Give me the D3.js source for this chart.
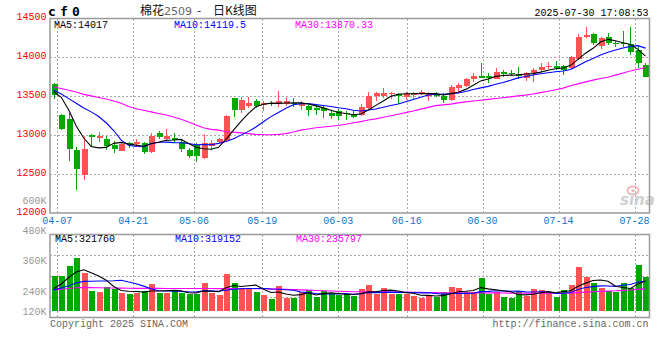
<!DOCTYPE html>
<html>
<head>
<meta charset="utf-8">
<script src="https://cdn.jsdelivr.net/npm/d3@7/dist/d3.min.js"></script>
<style>
body { margin: 0; background: #fff; }
text { font-family: "Liberation Mono", "DejaVu Sans Mono", monospace; font-size: 10px; }
</style>
</head>
<body>
<div id="kline-chart"></div>
<script>
// trading days shown (04-03 .. 07-30)
var dates = ["04-03","04-07","04-08","04-09","04-10","04-11","04-14","04-15","04-16","04-17",
  "04-18","04-21","04-22","04-23","04-24","04-25","04-28","04-29","04-30","05-06",
  "05-07","05-08","05-09","05-12","05-13","05-14","05-15","05-16","05-19","05-20",
  "05-21","05-22","05-23","05-26","05-27","05-28","05-29","05-30","06-03","06-04",
  "06-05","06-06","06-09","06-10","06-11","06-12","06-13","06-16","06-17","06-18",
  "06-19","06-20","06-23","06-24","06-25","06-26","06-27","06-30","07-01","07-02",
  "07-03","07-04","07-07","07-08","07-09","07-10","07-11","07-14","07-15","07-16",
  "07-17","07-18","07-21","07-22","07-23","07-24","07-25","07-28","07-29","07-30"];

var opens = [13660,13260,13208,12810,12489,12999,12968,12951,12870,12801,
  12896,12891,12896,12784,13024,12955,12964,12917,12810,12874,
  12711,12861,12917,12940,13478,13324,13380,13440,13390,13418,
  13397,13397,13418,13380,13380,13354,13345,13290,13311,13290,
  13264,13260,13345,13504,13508,13525,13525,13487,13517,13538,
  13504,13530,13504,13453,13611,13633,13722,13761,13761,13722,
  13817,13795,13782,13740,13795,13838,13872,13890,13894,13860,
  13975,14258,14301,14147,14267,14190,14190,14172,14095,13902];
var highs = [13670,13270,13290,12844,12994,13011,13041,12990,12926,12895,
  12917,12951,12913,13033,13058,13076,13024,12938,12831,12896,
  13016,12938,12970,13260,13478,13487,13495,13461,13440,13440,
  13568,13495,13474,13440,13388,13388,13375,13324,13333,13311,
  13311,13397,13560,13560,13611,13560,13538,13560,13560,13581,
  13560,13555,13538,13645,13675,13731,13795,13932,13795,13860,
  13838,13838,13881,13817,13860,13932,13945,13954,13902,14018,
  14301,14395,14310,14258,14310,14215,14339,14395,14160,13924];
var lows = [13460,13067,12673,12296,12424,12853,12908,12810,12776,12795,
  12831,12853,12754,12767,12947,12938,12904,12788,12703,12656,
  12690,12810,12900,12917,13238,13290,13345,13345,13315,13375,
  13367,13375,13367,13324,13247,13260,13225,13204,13195,13195,
  13217,13247,13333,13440,13482,13461,13397,13453,13453,13517,
  13440,13490,13418,13440,13560,13624,13688,13731,13675,13718,
  13752,13765,13718,13697,13688,13817,13847,13838,13774,13847,
  13967,14245,14159,14104,14159,14138,14138,14031,13868,13744];
var closes = [13520,13080,12827,12570,12823,12973,12990,12861,12827,12887,
  12870,12917,12788,12994,12981,12990,12938,12827,12733,12733,
  12896,12904,12955,13247,13328,13453,13418,13380,13410,13397,
  13440,13440,13397,13401,13324,13324,13311,13247,13247,13268,
  13238,13367,13504,13538,13547,13538,13504,13538,13538,13555,
  13538,13500,13453,13624,13645,13722,13761,13740,13740,13817,
  13782,13782,13761,13795,13838,13881,13894,13868,13838,14010,
  14267,14288,14181,14245,14181,14168,14168,14074,13924,13752];

var ma5 = [13560,13487,13324,13118,12964,12855,12837,12843,12895,12908,
  12887,12872,12858,12891,12910,12934,12938,12946,12894,12844,
  12825,12819,12844,12947,13066,13177,13280,13365,13398,13412,
  13409,13413,13417,13415,13400,13377,13351,13321,13291,13279,
  13262,13273,13325,13383,13439,13499,13526,13533,13533,13535,
  13535,13534,13517,13534,13552,13589,13641,13698,13722,13756,
  13768,13772,13776,13787,13792,13811,13834,13855,13864,13898,
  13975,14054,14117,14198,14232,14213,14189,14167,14103,14017];
var ma10 = [13580,13530,13470,13410,13350,13300,13240,13160,13060,12936,
  12871,12855,12851,12893,12909,12911,12905,12902,12893,12877,
  12880,12878,12895,12920,12955,13001,13049,13105,13172,13239,
  13293,13347,13391,13406,13406,13393,13382,13369,13353,13340,
  13320,13312,13323,13337,13359,13381,13400,13429,13458,13487,
  13517,13530,13525,13534,13543,13562,13587,13608,13628,13654,
  13678,13707,13737,13755,13774,13790,13803,13816,13826,13845,
  13893,13944,13986,14031,14065,14094,14121,14142,14151,14119.5];
var ma30 = [13620,13600,13578,13555,13525,13505,13485,13465,13440,13410,
  13370,13340,13320,13300,13280,13260,13235,13205,13170,13130,
  13095,13075,13065,13045,13040,13030,13020,13010,13005,13005,
  13010,13020,13040,13065,13080,13095,13105,13115,13125,13140,
  13160,13175,13195,13210,13230,13250,13270,13290,13310,13335,
  13358,13380,13390,13400,13415,13428,13440,13450,13460,13472,
  13482,13493,13505,13515,13530,13547,13565,13585,13605,13635,
  13660,13685,13708,13728,13745,13772,13800,13825,13848,13870.33];

// volume in thousand lots
var volumes = [376,376,485,573,412,213,202,253,231,191,
  176,191,216,289,191,191,213,191,184,176,
  300,195,169,398,300,245,245,198,169,125,
  271,136,136,198,224,151,209,177,169,177,
  158,234,278,177,245,183,183,177,158,136,
  169,151,198,256,245,198,198,354,183,198,
  147,136,213,161,234,224,198,151,224,278,
  470,370,295,250,210,198,300,245,496,370];
var vma5 = [240,290,360,420,444,412,377,331,262,218,
  211,208,201,213,213,216,220,215,194,191,
  213,210,205,248,273,262,271,277,231,196,
  202,180,167,173,193,169,184,192,186,177,
  178,183,203,205,218,223,213,193,189,167,
  165,158,162,182,204,210,219,250,236,226,
  216,204,175,171,178,194,206,194,206,215,
  264,299,327,333,319,265,251,241,290,321.76];
var vma10 = [225,245,270,300,318,320,322,322,325,331,
  311,293,266,237,215,213,214,208,203,202,
  214,215,210,221,232,237,241,241,240,235,
  232,226,222,202,195,185,182,180,180,185,
  174,183,198,195,198,201,198,198,197,193,
  194,186,178,186,186,187,189,206,209,215,
  213,211,213,203,202,205,205,185,189,197,
  229,252,261,269,267,264,275,284,311,319.152];
var vma30 = [225,232,240,248,252,250,248,246,245,244,
  243,242,242,242,242,241,241,240,240,240,
  240,240,239,240,240,240,240,239,238,236,
  234,231,228,225,222,219,216,213,210,207,
  205,204,204,203,203,202,201,200,199,198,
  197,195,193,192,192,191,191,192,192,192,
  191,190,190,189,189,189,189,188,188,190,
  196,201,205,209,212,215,220,224,231,235.797];

var priceTicks = [14500, 14000, 13500, 13000, 12500, 12000];
var volTicks = [600, 480, 360, 240, 120];
var dateTicks = ["04-07","04-21","05-06","05-19","06-03","06-16","06-30","07-14","07-28"];
var priceLegend = ["MA5:14017", "MA10:14119.5", "MA30:13870.33"];
var volLegend = ["MA5:321760", "MA10:319152", "MA30:235797"];

var RED = "#ff5252", GREEN = "#00a800", GRID = "#aaaaaa", BORDER = "#9a9a9a";

function drawKChart() {
    var left = 50, right = 649.5,
        top = 18.5, bottom = 213,
        vTop = 234.5, vBottom = 317.5;

    var svg = d3.select("#kline-chart")
        .append("svg")
        .attr("width", 660)
        .attr("height", 360);

    // x: candle slots, and the (slightly wider) date grid Sina uses
    var x = d3.scaleBand()
        .domain(dates)
        .range([left, 649.2])
        .paddingInner(0.22)
        .paddingOuter(0.11);
    var gridX = d3.scaleLinear()
        .domain([0, dates.length - 1])
        .range([49.7, 649.7]);
    var cx = function (i) { return x(dates[i]) + x.bandwidth() / 2; };

    var y = d3.scaleLinear().domain([12000, 14500]).range([bottom, top]);
    var yv = d3.scaleLinear().domain([0, 830]).range([310.5, vTop]);
    // tick labels of the volume pane sit where Sina puts them
    var yvLabel = d3.scaleLinear().domain([600, 480, 360, 240, 120]).range([200.3, 230.3, 260.3, 291.3, 311.3]);

    // grid
    var grid = svg.append("g")
        .attr("stroke", GRID)
        .attr("stroke-dasharray", "2,2")
        .attr("shape-rendering", "crispEdges");

    grid.selectAll(".hgrid")
        .data(priceTicks.slice(1, 5))
        .enter().append("line")
        .attr("x1", left).attr("x2", right)
        .attr("y1", function (d) { return Math.round(y(d)) + 0.5; })
        .attr("y2", function (d) { return Math.round(y(d)) + 0.5; });

    grid.selectAll(".vhgrid")
        .data(d3.range(1, 4))
        .enter().append("line")
        .attr("x1", left).attr("x2", right)
        .attr("y1", function (i) { return Math.round(vTop + i * (vBottom - vTop) / 4) + 0.5; })
        .attr("y2", function (i) { return Math.round(vTop + i * (vBottom - vTop) / 4) + 0.5; });

    dateTicks.forEach(function (d) {
        var gx = Math.round(gridX(dates.indexOf(d))) + 0.5;
        if (gx > right) return;
        grid.append("line").attr("x1", gx).attr("x2", gx).attr("y1", top).attr("y2", bottom);
        grid.append("line").attr("x1", gx).attr("x2", gx).attr("y1", vTop).attr("y2", vBottom);
    });

    // watermark
    var wm = svg.append("g");
    wm.append("ellipse").attr("cx", 633).attr("cy", 190.5).attr("rx", 5.5).attr("ry", 4)
        .attr("fill", "none").attr("stroke", "#f3b6b6").attr("stroke-width", 2);
    wm.append("circle").attr("cx", 633).attr("cy", 190.5).attr("r", 1.6).attr("fill", "#f3b6b6");
    wm.append("text").attr("x", 620).attr("y", 205)
        .style("font-family", "'DejaVu Sans', sans-serif").style("font-size", "15px")
        .style("font-style", "italic").style("font-weight", "bold")
        .attr("fill", "#d0d0d0").text("sina");

    // candles
    var idx = d3.range(dates.length);
    var colorOf = function (i) { return closes[i] >= opens[i] ? RED : GREEN; };

    svg.append("g").selectAll("line")
        .data(idx).enter().append("line")
        .attr("x1", function (i) { return Math.round(cx(i)) + 0.5; })
        .attr("x2", function (i) { return Math.round(cx(i)) + 0.5; })
        .attr("y1", function (i) { return y(highs[i]); })
        .attr("y2", function (i) { return y(lows[i]); })
        .attr("stroke", colorOf)
        .attr("shape-rendering", "crispEdges");

    svg.append("g").selectAll("rect")
        .data(idx).enter().append("rect")
        .attr("x", function (i) { return Math.round(cx(i)) - 2.5; })
        .attr("width", 6)
        .attr("y", function (i) { return y(Math.max(opens[i], closes[i])); })
        .attr("height", function (i) { return Math.max(1, y(Math.min(opens[i], closes[i])) - y(Math.max(opens[i], closes[i]))); })
        .attr("fill", colorOf)
        .attr("shape-rendering", "crispEdges");

    // volume bars
    svg.append("g").selectAll("rect")
        .data(idx).enter().append("rect")
        .attr("x", function (i) { return Math.round(cx(i)) - 2.5; })
        .attr("width", 6)
        .attr("y", function (i) { return yv(volumes[i]); })
        .attr("height", function (i) { return yv(0) - yv(volumes[i]); })
        .attr("fill", colorOf)
        .attr("shape-rendering", "crispEdges");

    // moving averages
    var priceLine = d3.line().x(function (d, i) { return cx(i); }).y(function (d) { return y(d); });
    var volLine = d3.line().x(function (d, i) { return cx(i); }).y(function (d) { return yv(d); });
    [[ma30, "#ff00ff"], [ma10, "#0000ff"], [ma5, "#000000"]].forEach(function (s) {
        svg.append("path").datum(s[0]).attr("d", priceLine)
            .attr("fill", "none").attr("stroke", s[1]).attr("stroke-width", 1.1);
    });
    [[vma30, "#ff00ff"], [vma10, "#0000ff"], [vma5, "#000000"]].forEach(function (s) {
        svg.append("path").datum(s[0]).attr("d", volLine)
            .attr("fill", "none").attr("stroke", s[1]).attr("stroke-width", 1.1);
    });

    // pane borders
    var frame = svg.append("g").attr("fill", "none").attr("stroke", BORDER).attr("stroke-width", 1.5);
    frame.append("rect").attr("x", left).attr("y", top).attr("width", right - left).attr("height", bottom - top);
    frame.append("rect").attr("x", left).attr("y", vTop).attr("width", right - left).attr("height", vBottom - vTop);

    // price labels
    svg.append("g").selectAll("text")
        .data(priceTicks).enter().append("text")
        .attr("x", 46.5)
        .attr("y", function (d) { return y(d) + 1.5; })
        .attr("text-anchor", "end")
        .attr("fill", "#ff0000")
        .text(function (d) { return d; });

    // volume labels
    svg.append("g").selectAll("text")
        .data(volTicks).enter().append("text")
        .attr("x", 46.5)
        .attr("y", function (d) { return yvLabel(d) + 3.2; })
        .attr("text-anchor", "end")
        .attr("fill", "#999999")
        .text(function (d) { return d + "K"; });

    // date labels
    svg.append("g").selectAll("text")
        .data(dateTicks).enter().append("text")
        .attr("x", function (d) { return Math.min(gridX(dates.indexOf(d)), 634.5); })
        .attr("y", 224)
        .attr("text-anchor", "middle")
        .attr("fill", "#0a78cc")
        .text(function (d) { return d; });

    // legends
    var legendX = [54, 174, 295], legendColor = ["#000000", "#0000ff", "#ff00ff"];
    priceLegend.forEach(function (t, i) {
        svg.append("text").attr("x", legendX[i]).attr("y", 27.5).attr("fill", legendColor[i]).text(t);
    });
    volLegend.forEach(function (t, i) {
        svg.append("text").attr("x", legendX[i] + 1).attr("y", 241.5).attr("fill", legendColor[i]).text(t);
    });

    // header
    svg.append("text").attr("x", 48).attr("y", 16)
        .style("font-family", "'DejaVu Sans Mono', monospace").style("font-size", "13px")
        .style("font-weight", "bold").style("letter-spacing", "4.2px")
        .text("cf0");

    var title = svg.append("text").attr("x", 140).attr("y", 15)
        .style("font-family", "'Noto Sans CJK SC', sans-serif").style("font-size", "12px").attr("fill", "#111");
    title.append("tspan").text("棉花");
    title.append("tspan").style("font-family", "'DejaVu Sans', sans-serif").style("font-size", "11px").attr("fill", "#666").text("2509");
    title.append("tspan").attr("x", 197).text("-");
    title.append("tspan").attr("x", 213).text("日K线图");

    svg.append("text").attr("x", 648.5).attr("y", 15.5)
        .attr("text-anchor", "end").attr("fill", "#000")
        .text("2025-07-30 17:08:53");

    // footer
    svg.append("text").attr("x", 50).attr("y", 327).attr("fill", "#666").text("Copyright 2025 SINA.COM");
    svg.append("text").attr("x", 648.5).attr("y", 327).attr("text-anchor", "end").attr("fill", "#666").text("http://finance.sina.com.cn");
}

drawKChart();
</script>
</body>
</html>
